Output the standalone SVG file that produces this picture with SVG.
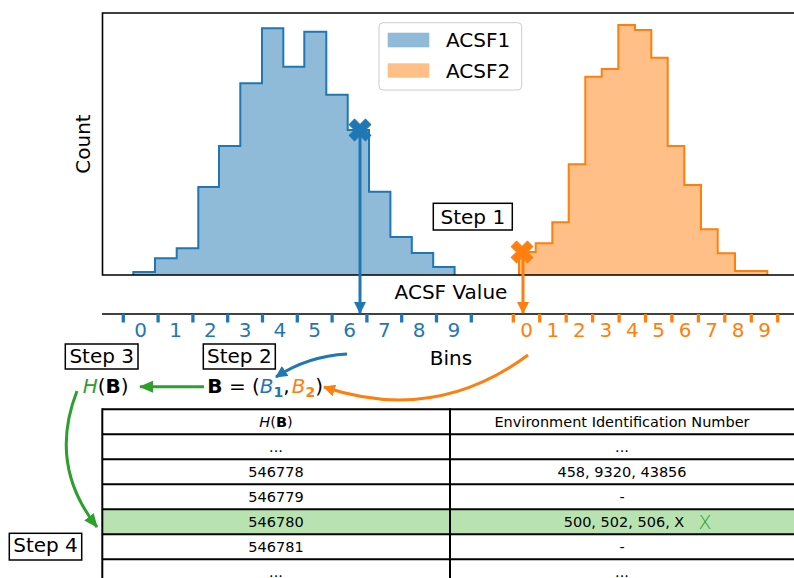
<svg xmlns="http://www.w3.org/2000/svg" xmlns:xlink="http://www.w3.org/1999/xlink" width="794" height="578" viewBox="0 0 794 578">
  <style>
    text { font-family: "DejaVu Sans", "Liberation Sans", sans-serif; fill: #000; }
    .lbl { font-size: 20px; }
    .tk-b { font-size: 20px; fill: #1f77b4; text-anchor: middle; }
    .tk-o { font-size: 20px; fill: #ff7f0e; text-anchor: middle; }
    .cell { font-size: 14.5px; text-anchor: middle; }
    .mark { font-size: 19px; fill: #2ca02c; text-anchor: middle; font-weight: 300; }
    .stepbox { fill: #fff; stroke: #000; stroke-width: 1.5; }
    .frame { stroke: #000; stroke-width: 1.6; fill: none; }
    .grid { stroke: #000; stroke-width: 2; fill: none; }
    .tick-b { stroke: #1f77b4; stroke-width: 3.3; }
    .tick-o { stroke: #ff7f0e; stroke-width: 3.3; }
    .arr { fill: none; stroke-width: 3; }
  </style>
  <defs>
    <marker id="ah-blue" viewBox="0 0 12 12" refX="11" refY="6" markerWidth="12" markerHeight="12" markerUnits="userSpaceOnUse" orient="auto">
      <path d="M0,0 L12,6 L0,12 z" fill="#1f77b4"/>
    </marker>
    <marker id="ah-orange" viewBox="0 0 12 12" refX="11" refY="6" markerWidth="12" markerHeight="12" markerUnits="userSpaceOnUse" orient="auto">
      <path d="M0,0 L12,6 L0,12 z" fill="#ff7f0e"/>
    </marker>
    <marker id="ah-green" viewBox="0 0 14 12" refX="13" refY="6" markerWidth="14" markerHeight="12" markerUnits="userSpaceOnUse" orient="auto">
      <path d="M0,0 L14,6 L0,12 z" fill="#2ca02c"/>
    </marker>
    <!-- filled "X" marker, centred on the origin -->
    <path id="xmark" d="M-3.8,-11.5 L3.8,-11.5 L3.8,-3.8 L11.5,-3.8 L11.5,3.8 L3.8,3.8 L3.8,11.5 L-3.8,11.5 L-3.8,3.8 L-11.5,3.8 L-11.5,-3.8 L-3.8,-3.8 Z"/>
  </defs>

  <rect width="794" height="578" fill="#fff"/>

  <!-- histogram panel -->
  <g id="histogram">
    <g id="acsf1-hist">
      <polygon fill="#8fbbd9" points="133.3,275 133.3,272 155,272 155,258.3 176.7,258.3 176.7,248.3 198.3,248.3 198.3,187 219,187 219,146 240.3,146 240.3,83.3 262,83.3 262,28.3 283.3,28.3 283.3,66.7 304.3,66.7 304.3,31.7 326.3,31.7 326.3,94.7 347.7,94.7 347.7,130 369,130 369,191.7 390.4,191.7 390.4,237 411.8,237 411.8,253 433.2,253 433.2,267 454.6,267 454.6,275"/>
      <polyline fill="none" stroke="#1f77b4" stroke-width="2" points="133.3,275 133.3,272 155,272 155,258.3 176.7,258.3 176.7,248.3 198.3,248.3 198.3,187 219,187 219,146 240.3,146 240.3,83.3 262,83.3 262,28.3 283.3,28.3 283.3,66.7 304.3,66.7 304.3,31.7 326.3,31.7 326.3,94.7 347.7,94.7 347.7,130 369,130 369,191.7 390.4,191.7 390.4,237 411.8,237 411.8,253 433.2,253 433.2,267 454.6,267 454.6,275"/>
    </g>
    <g id="acsf2-hist">
      <polygon fill="#ffbf86" points="519,275 519,252 535.7,252 535.7,243.3 552.3,243.3 552.3,222.3 568.7,222.3 568.7,164.3 585.3,164.3 585.3,76.7 601.7,76.7 601.7,69 618.3,69 618.3,25 635,25 635,30 651.3,30 651.3,57.7 667.7,57.7 667.7,146 684.3,146 684.3,185 701,185 701,229.3 717.7,229.3 717.7,253.3 735,253.3 735,271 767.3,271 767.3,275"/>
      <polyline fill="none" stroke="#ff7f0e" stroke-width="2" points="519,275 519,252 535.7,252 535.7,243.3 552.3,243.3 552.3,222.3 568.7,222.3 568.7,164.3 585.3,164.3 585.3,76.7 601.7,76.7 601.7,69 618.3,69 618.3,25 635,25 635,30 651.3,30 651.3,57.7 667.7,57.7 667.7,146 684.3,146 684.3,185 701,185 701,229.3 717.7,229.3 717.7,253.3 735,253.3 735,271 767.3,271 767.3,275"/>
    </g>
    <polyline class="frame" points="800,13 102.5,13 102.5,275 800,275"/>
    <text class="lbl" transform="translate(90,144) rotate(-90)" text-anchor="middle">Count</text>
    <text class="lbl" x="451" y="299" text-anchor="middle">ACSF Value</text>

    <g id="legend">
      <rect x="379" y="22.7" width="142.7" height="67.3" rx="4" fill="#fff" fill-opacity="0.8" stroke="#cccccc" stroke-width="1"/>
      <rect x="387.7" y="32.7" width="41.6" height="14.6" fill="#8fbbd9"/>
      <rect x="387.7" y="63.3" width="41.6" height="14.4" fill="#ffbf86"/>
      <text class="lbl" x="446" y="47">ACSF1</text>
      <text class="lbl" x="446" y="78">ACSF2</text>
    </g>
  </g>

  <!-- bins axis -->
  <g id="bins-axis">
    <line x1="102" y1="314" x2="800" y2="314" stroke="#000" stroke-width="1.6"/>
    <g class="tick-b">
      <line x1="123.3" y1="314" x2="123.3" y2="322.5"/>
      <line x1="158.1" y1="314" x2="158.1" y2="322.5"/>
      <line x1="192.9" y1="314" x2="192.9" y2="322.5"/>
      <line x1="227.7" y1="314" x2="227.7" y2="322.5"/>
      <line x1="262.5" y1="314" x2="262.5" y2="322.5"/>
      <line x1="297.3" y1="314" x2="297.3" y2="322.5"/>
      <line x1="332.1" y1="314" x2="332.1" y2="322.5"/>
      <line x1="366.9" y1="314" x2="366.9" y2="322.5"/>
      <line x1="401.7" y1="314" x2="401.7" y2="322.5"/>
      <line x1="436.5" y1="314" x2="436.5" y2="322.5"/>
      <line x1="471.3" y1="314" x2="471.3" y2="322.5"/>
    </g>
    <g class="tick-o">
      <line x1="513.3" y1="314" x2="513.3" y2="322.5"/>
      <line x1="539.7" y1="314" x2="539.7" y2="322.5"/>
      <line x1="566.2" y1="314" x2="566.2" y2="322.5"/>
      <line x1="592.6" y1="314" x2="592.6" y2="322.5"/>
      <line x1="619.1" y1="314" x2="619.1" y2="322.5"/>
      <line x1="645.5" y1="314" x2="645.5" y2="322.5"/>
      <line x1="671.9" y1="314" x2="671.9" y2="322.5"/>
      <line x1="698.4" y1="314" x2="698.4" y2="322.5"/>
      <line x1="724.8" y1="314" x2="724.8" y2="322.5"/>
      <line x1="751.3" y1="314" x2="751.3" y2="322.5"/>
      <line x1="777.7" y1="314" x2="777.7" y2="322.5"/>
    </g>
    <text class="tk-b" x="140.7" y="337">0</text>
    <text class="tk-b" x="175.5" y="337">1</text>
    <text class="tk-b" x="210.3" y="337">2</text>
    <text class="tk-b" x="245.1" y="337">3</text>
    <text class="tk-b" x="279.9" y="337">4</text>
    <text class="tk-b" x="314.7" y="337">5</text>
    <text class="tk-b" x="349.5" y="337">6</text>
    <text class="tk-b" x="384.3" y="337">7</text>
    <text class="tk-b" x="419.1" y="337">8</text>
    <text class="tk-b" x="453.9" y="337">9</text>
    <text class="tk-o" x="526.5" y="337">0</text>
    <text class="tk-o" x="552.9" y="337">1</text>
    <text class="tk-o" x="579.4" y="337">2</text>
    <text class="tk-o" x="605.8" y="337">3</text>
    <text class="tk-o" x="632.3" y="337">4</text>
    <text class="tk-o" x="658.7" y="337">5</text>
    <text class="tk-o" x="685.1" y="337">6</text>
    <text class="tk-o" x="711.6" y="337">7</text>
    <text class="tk-o" x="738.0" y="337">8</text>
    <text class="tk-o" x="764.5" y="337">9</text>
    <text class="lbl" x="451" y="365" text-anchor="middle">Bins</text>
  </g>

  <!-- step labels -->
  <g id="step1">
    <rect class="stepbox" x="433.3" y="203.3" width="79" height="26.7"/>
    <text class="lbl" x="472.8" y="223.5" text-anchor="middle">Step 1</text>
  </g>
  <g id="step2">
    <rect class="stepbox" x="203.3" y="344" width="72" height="25"/>
    <text class="lbl" x="239.3" y="363.3" text-anchor="middle">Step 2</text>
  </g>
  <g id="step3">
    <rect class="stepbox" x="65.3" y="344" width="72.7" height="25"/>
    <text class="lbl" x="101.7" y="363.3" text-anchor="middle">Step 3</text>
  </g>
  <g id="step4">
    <rect class="stepbox" x="9.3" y="533.3" width="72.4" height="26.7"/>
    <text class="lbl" x="45.5" y="552" text-anchor="middle">Step 4</text>
  </g>

  <!-- hash expressions -->
  <g id="hash-value">
    <text class="lbl" x="82.7" y="393.3"><tspan fill="#2ca02c" font-style="italic">H</tspan>(<tspan font-weight="bold">B</tspan>)</text>
  </g>
  <g id="bin-tuple">
    <text class="lbl" x="207.3" y="393.3"><tspan font-weight="bold">B</tspan> = (<tspan fill="#1f77b4" font-style="italic">B</tspan><tspan fill="#1f77b4" font-weight="bold" font-size="14" dy="4">1</tspan><tspan dy="-4">,</tspan><tspan fill="#ff7f0e" font-style="italic" dx="2">B</tspan><tspan fill="#ff7f0e" font-weight="bold" font-size="14" dy="4">2</tspan><tspan dy="-4">)</tspan></text>
  </g>

  <!-- lookup table -->
  <g id="lookup-table">
    <rect x="102" y="509.3" width="700" height="24.7" fill="#b8e3b1"/>
    <g class="grid">
      <line x1="102" y1="409.3" x2="800" y2="409.3"/>
      <line x1="102" y1="434.3" x2="800" y2="434.3"/>
      <line x1="102" y1="459.3" x2="800" y2="459.3"/>
      <line x1="102" y1="484.3" x2="800" y2="484.3"/>
      <line x1="102" y1="509.3" x2="800" y2="509.3"/>
      <line x1="102" y1="534.3" x2="800" y2="534.3"/>
      <line x1="102" y1="559.3" x2="800" y2="559.3"/>
      <line x1="102.3" y1="408.3" x2="102.3" y2="578"/>
      <line x1="450" y1="408.3" x2="450" y2="578"/>
    </g>
    <text class="cell" x="276" y="426.5"><tspan font-style="italic">H</tspan>(<tspan font-weight="bold">B</tspan>)</text>
    <text class="cell" x="622" y="426.5">Environment Identification Number</text>
    <text class="cell" x="276" y="451.5">...</text>
    <text class="cell" x="622" y="451.5">...</text>
    <text class="cell" x="276" y="476.5">546778</text>
    <text class="cell" x="622" y="476.5">458, 9320, 43856</text>
    <text class="cell" x="276" y="501.5">546779</text>
    <text class="cell" x="622" y="501.5">-</text>
    <text class="cell" x="276" y="526.5">546780</text>
    <text class="cell" x="624" y="526.5">500, 502, 506, X</text>
    <text class="mark" x="705" y="529">X</text>
    <text class="cell" x="276" y="551.5">546781</text>
    <text class="cell" x="622" y="551.5">-</text>
    <text class="cell" x="276" y="576.5">...</text>
    <text class="cell" x="622" y="576.5">...</text>
  </g>

  <!-- connectors -->
  <g id="connectors">
    <line class="arr" x1="360" y1="130" x2="360" y2="313" stroke="#1f77b4" marker-end="url(#ah-blue)"/>
    <line class="arr" x1="523" y1="252" x2="523" y2="313" stroke="#ff7f0e" marker-end="url(#ah-orange)"/>
    <path class="arr" d="M347,354 Q308,356 276,377" stroke="#1f77b4" marker-end="url(#ah-blue)"/>
    <path class="arr" d="M528,355 Q435,424 324,387" stroke="#ff7f0e" marker-end="url(#ah-orange)"/>
    <line class="arr" x1="204" y1="386.7" x2="140" y2="386.7" stroke="#2ca02c" marker-end="url(#ah-green)"/>
    <path class="arr" d="M77,391 Q48,465 97,527" stroke="#2ca02c" marker-end="url(#ah-green)"/>
  </g>

  <!-- sample markers -->
  <g id="markers">
    <use xlink:href="#xmark" transform="translate(360,130) rotate(45)" fill="#1f77b4" stroke="#1f77b4" stroke-width="1" stroke-linejoin="round"/>
    <use xlink:href="#xmark" transform="translate(522,252) rotate(45)" fill="#ff7f0e" stroke="#ff7f0e" stroke-width="1" stroke-linejoin="round"/>
  </g>
</svg>
